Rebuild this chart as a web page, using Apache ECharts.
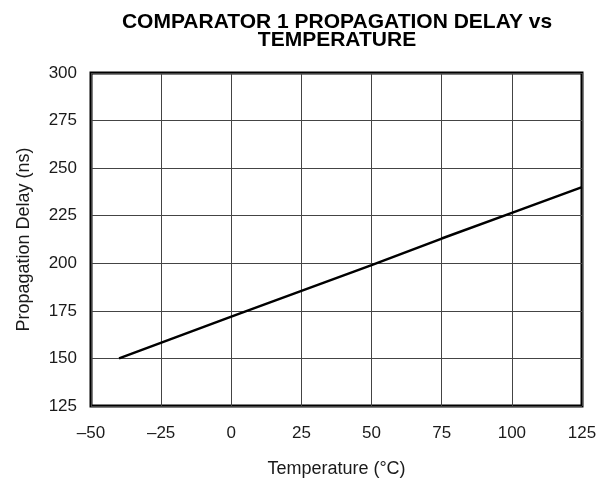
<!DOCTYPE html>
<html><head><meta charset="utf-8">
<script src="https://cdn.jsdelivr.net/npm/echarts@6/dist/echarts.min.js"></script>
<style>html,body{margin:0;padding:0;background:#fff}#c{width:611px;height:479px}</style>
</head><body><div id="c"></div>
<script>
const temperature = [-40, 0, 25, 50, 75, 100, 125];
const delay = [150, 172, 185.5, 199, 213, 226.5, 240];
const xTicks = [-50, -25, 0, 25, 50, 75, 100, 125];
const yTicks = [125, 150, 175, 200, 225, 250, 275, 300];

const chart = echarts.init(document.getElementById('c'));
const font = 'Liberation Sans, Arial, Helvetica, sans-serif';
chart.setOption({
  animation: false,
  backgroundColor: '#fff',
  title: {
    text: 'COMPARATOR 1 PROPAGATION DELAY vs\nTEMPERATURE',
    left: 332, top: 8, textAlign: 'center',
    textStyle: {fontFamily: font, fontSize: 21, fontWeight: 'bold', color: '#000', lineHeight: 18}
  },
  grid: {left: 91, right: 29, top: 73, bottom: 73, show: true, borderColor: '#000', borderWidth: 3, backgroundColor: 'transparent', containLabel: false, outerBoundsMode: 'none'},
  xAxis: {
    type: 'value', min: xTicks[0], max: xTicks[xTicks.length-1], interval: 25,
    name: 'Temperature (°C)', nameLocation: 'middle', nameGap: 54,
    nameTextStyle: {fontFamily: font, fontSize: 18, color: '#1a1a1a'},
    axisLine: {show: false}, axisTick: {show: false},
    axisLabel: {fontFamily: font, fontSize: 17, color: '#1a1a1a', margin: 19, formatter: v => v < 0 ? '\u2013' + Math.abs(v) : String(v)},
    splitLine: {show: true, lineStyle: {color: '#444', width: 1}}
  },
  yAxis: {
    type: 'value', min: yTicks[0], max: yTicks[yTicks.length-1], interval: 25,
    name: 'Propagation Delay (ns)', nameLocation: 'middle', nameGap: 58,
    nameTextStyle: {fontFamily: font, fontSize: 18, color: '#1a1a1a'},
    axisLine: {show: false}, axisTick: {show: false},
    axisLabel: {fontFamily: font, fontSize: 17, color: '#1a1a1a', margin: 14},
    splitLine: {show: true, lineStyle: {color: '#444', width: 1}}
  },
  series: [{
    type: 'line', data: temperature.map((t, i) => [t, delay[i]]),
    symbol: 'none', lineStyle: {color: '#000', width: 2.5}
  }]
});
</script></body></html>
